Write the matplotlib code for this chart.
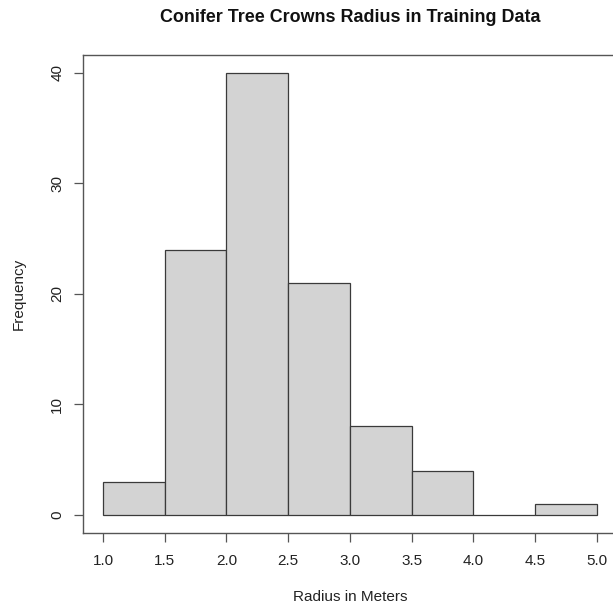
import matplotlib
matplotlib.use("Agg")
import matplotlib.pyplot as plt
import numpy as np

plt.rcParams['font.family'] = ['Liberation Sans', 'DejaVu Sans']

# Histogram bins (meters) and counts per bin
bin_edges = [1.0, 1.5, 2.0, 2.5, 3.0, 3.5, 4.0, 4.5, 5.0]
counts = [3, 24, 40, 21, 8, 4, 0, 1]
x_ticks = [1.0, 1.5, 2.0, 2.5, 3.0, 3.5, 4.0, 4.5, 5.0]
y_ticks = [0, 10, 20, 30, 40]

title = "Conifer Tree Crowns Radius in Training Data"
xlabel = "Radius in Meters"
ylabel = "Frequency"

W, H = 613, 609
fig = plt.figure(figsize=(W / 100, H / 100), dpi=100)

# plot region in pixels (left, right, top, bottom)
left_px, right_px, top_px, bottom_px = 83.3, 616.5, 55.0, 532.5
ax = fig.add_axes([left_px / W, 1 - bottom_px / H,
                   (right_px - left_px) / W, (bottom_px - top_px) / H])

edges = np.array(bin_edges)
ax.bar(edges[:-1], counts, width=np.diff(edges), align='edge',
       color='#D3D3D3', edgecolor='#3a3a3a', linewidth=0.9)

# R-style 4% axis extension
xr = edges[-1] - edges[0]
ax.set_xlim(edges[0] - 0.04 * xr, edges[-1] + 0.04 * xr)
ymax = max(counts)
ax.set_ylim(-0.04 * ymax, ymax * 1.04)

for s in ax.spines.values():
    s.set_color('#555555')
    s.set_linewidth(1.0)

ax.set_xticks(x_ticks)
ax.set_xticklabels([f"{v:.1f}" for v in x_ticks])
ax.set_yticks(y_ticks)
ax.set_yticklabels([str(v) for v in y_ticks], rotation=90, va='center')

ax.tick_params(axis='both', length=6.8, width=0.9, color='#555555',
               labelsize=11, labelcolor='#222222')
ax.tick_params(axis='x', pad=8.5)
ax.tick_params(axis='y', pad=7)

fig.text((left_px + right_px) / 2 / W, 1 - 17.5 / H, title,
         ha='center', va='center', fontsize=12.9, fontweight='bold',
         color='#111111')
fig.text((left_px + right_px) / 2 / W, 1 - 597 / H, xlabel,
         ha='center', va='center', fontsize=11, color='#222222')
fig.text(19 / W, 1 - ((top_px + bottom_px) / 2) / H, ylabel,
         ha='center', va='center', rotation=90, fontsize=11, color='#222222')

fig.savefig("out.png", dpi=100, facecolor='white')
